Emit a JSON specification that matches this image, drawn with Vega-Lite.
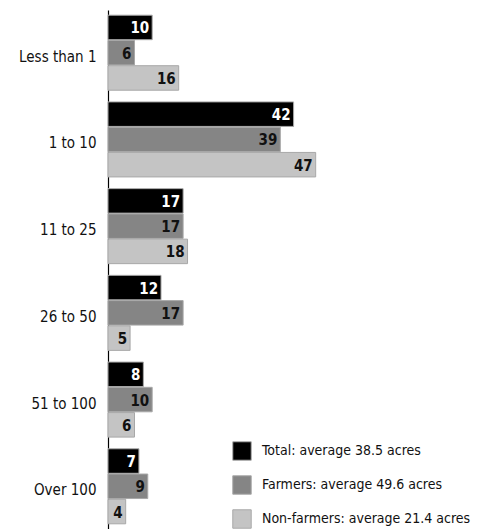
{
  "$schema": "https://vega.github.io/schema/vega-lite/v6.json",
  "width": 380,
  "height": 519,
  "autosize": "none",
  "padding": {"left": 108, "top": 10, "right": 0, "bottom": 0},
  "background": "white",
  "config": {"view": {"stroke": null}, "font": "DejaVu Sans Condensed, sans-serif"},
  "data": {"values": [
    {"size": "Less than 1", "series": "Total: average 38.5 acres", "value": 10},
    {"size": "Less than 1", "series": "Farmers: average 49.6 acres", "value": 6},
    {"size": "Less than 1", "series": "Non-farmers: average 21.4 acres", "value": 16},
    {"size": "1 to 10", "series": "Total: average 38.5 acres", "value": 42},
    {"size": "1 to 10", "series": "Farmers: average 49.6 acres", "value": 39},
    {"size": "1 to 10", "series": "Non-farmers: average 21.4 acres", "value": 47},
    {"size": "11 to 25", "series": "Total: average 38.5 acres", "value": 17},
    {"size": "11 to 25", "series": "Farmers: average 49.6 acres", "value": 17},
    {"size": "11 to 25", "series": "Non-farmers: average 21.4 acres", "value": 18},
    {"size": "26 to 50", "series": "Total: average 38.5 acres", "value": 12},
    {"size": "26 to 50", "series": "Farmers: average 49.6 acres", "value": 17},
    {"size": "26 to 50", "series": "Non-farmers: average 21.4 acres", "value": 5},
    {"size": "51 to 100", "series": "Total: average 38.5 acres", "value": 8},
    {"size": "51 to 100", "series": "Farmers: average 49.6 acres", "value": 10},
    {"size": "51 to 100", "series": "Non-farmers: average 21.4 acres", "value": 6},
    {"size": "Over 100", "series": "Total: average 38.5 acres", "value": 7},
    {"size": "Over 100", "series": "Farmers: average 49.6 acres", "value": 9},
    {"size": "Over 100", "series": "Non-farmers: average 21.4 acres", "value": 4}
  ]},
  "encoding": {
    "y": {
      "field": "size", "type": "nominal",
      "sort": ["Less than 1", "1 to 10", "11 to 25", "26 to 50", "51 to 100", "Over 100"],
      "scale": {"paddingInner": 0.135, "paddingOuter": 0.06},
      "axis": {"title": null, "ticks": false, "labelPadding": 12, "labelFontSize": 15, "labelColor": "#111", "labelOffset": 4, "domainColor": "#000", "domainWidth": 1.2}
    },
    "yOffset": {
      "field": "series", "type": "nominal",
      "sort": ["Total: average 38.5 acres", "Farmers: average 49.6 acres", "Non-farmers: average 21.4 acres"],
      "scale": {"paddingInner": 0.03}
    },
    "x": {
      "field": "value", "type": "quantitative",
      "scale": {"domain": [0, 86], "nice": false},
      "axis": null
    }
  },
  "layer": [
    {
      "mark": {"type": "bar", "stroke": "#a8a8a8", "strokeWidth": 1},
      "encoding": {
        "color": {
          "field": "series", "type": "nominal",
          "sort": ["Total: average 38.5 acres", "Farmers: average 49.6 acres", "Non-farmers: average 21.4 acres"],
          "scale": {"domain": ["Total: average 38.5 acres", "Farmers: average 49.6 acres", "Non-farmers: average 21.4 acres"], "range": ["#000000", "#858585", "#c4c4c4"]},
          "legend": {
            "title": null, "orient": "none", "legendX": 124, "legendY": 431,
            "symbolType": "square", "symbolSize": 340, "symbolStrokeColor": "#aaa", "symbolStrokeWidth": 1,
            "labelFontSize": 14, "labelColor": "#111", "labelOffset": 10, "rowPadding": 10, "padding": 0,
            "labelLimit": 300
          }
        }
      }
    },
    {
      "mark": {"type": "text", "align": "right", "baseline": "middle", "dx": -3, "dy": 1, "fontSize": 15, "fontWeight": "bold"},
      "encoding": {
        "text": {"field": "value", "type": "quantitative"},
        "fill": {"condition": {"test": "datum.series == 'Total: average 38.5 acres'", "value": "white"}, "value": "#111"}
      }
    }
  ]
}
